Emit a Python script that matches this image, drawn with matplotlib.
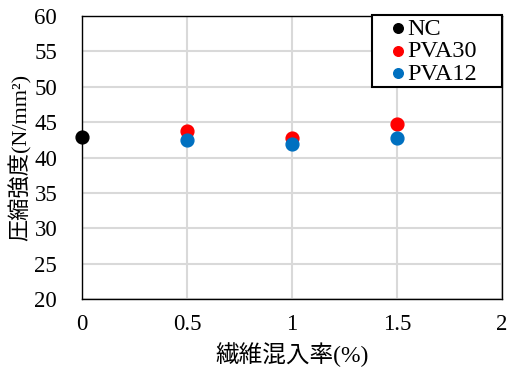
import matplotlib
matplotlib.use("Agg")
import matplotlib.pyplot as plt

plt.rcParams['font.family'] = ['Liberation Serif', 'Noto Sans CJK JP']

nc_x = [0.0]
nc_y = [42.9]
pva30_x = [0.5, 1.0, 1.5]
pva30_y = [43.8, 42.7, 44.8]
pva12_x = [0.5, 1.0, 1.5]
pva12_y = [42.5, 41.9, 42.8]
series_names = ['NC', 'PVA30', 'PVA12']
xticks = [0, 0.5, 1, 1.5, 2]
yticks = [20, 25, 30, 35, 40, 45, 50, 55, 60]

fig = plt.figure(figsize=(5.07, 3.72), dpi=100)
ax = fig.add_axes([0.162, 0.196, 0.828, 0.761])

ax.scatter(nc_x, nc_y, s=85, color='black', label=series_names[0], zorder=3, clip_on=False)
ax.scatter(pva30_x, pva30_y, s=85, color='#ff0000', label=series_names[1], zorder=3)
ax.scatter(pva12_x, pva12_y, s=85, color='#0070c0', label=series_names[2], zorder=3)

ax.set_xlim(0, 2)
ax.set_ylim(20, 60)
ax.set_xticks(xticks)
ax.set_xticklabels(['0', '0.5', '1', '1.5', '2'])
ax.set_yticks(yticks)
ax.grid(True, color='#d9d9d9', linewidth=1.5)
ax.set_axisbelow(True)
ax.tick_params(axis='x', length=0, labelsize=16.5, pad=11)
ax.tick_params(axis='y', length=0, labelsize=16.5, pad=18)
for sp in ax.spines.values():
    sp.set_color('black')
    sp.set_linewidth(1.0)

ax.set_xlabel('繊維混入率(%)', fontsize=17, labelpad=5)
ax.set_ylabel('圧縮強度(N/mm²)', fontsize=16, labelpad=2)

leg = ax.legend(loc='upper left', bbox_to_anchor=(0.69, 0.0, 0.31, 1.005), mode='expand',
                fontsize=17.5, frameon=True,
                fancybox=False, edgecolor='black', framealpha=1, handletextpad=-0.6,
                borderpad=0.12, labelspacing=0.02, markerscale=0.75, handlelength=1.95,
                borderaxespad=0)
leg.get_frame().set_linewidth(1.5)

fig.savefig('out.png', dpi=100)
